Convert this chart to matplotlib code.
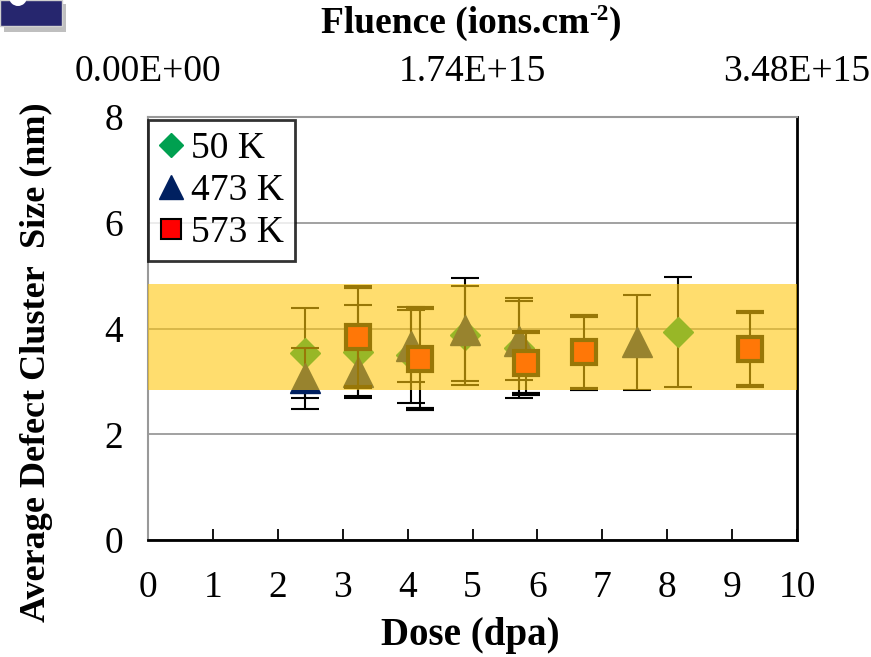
import numpy as np
import matplotlib.pyplot as plt
from matplotlib.lines import Line2D
from matplotlib.patches import Rectangle, Circle

# Average defect cluster size vs dose, three irradiation temperatures
# 50 K
dose_50 = [2.42, 3.24, 4.05, 4.88, 5.71, 8.17]
size_50 = [3.54, 3.56, 3.50, 3.87, 3.63, 3.93]
err_50 = [0.85, 0.88, 0.90, 0.93, 0.94, 1.04]

# 473 K
dose_473 = [2.42, 3.24, 4.05, 4.88, 5.71, 7.53]
size_473 = [3.06, 3.18, 3.67, 3.98, 3.77, 3.74]
err_473 = [0.58, 0.46, 0.68, 0.97, 0.75, 0.90]

# 573 K
dose_573 = [3.24, 4.19, 5.83, 6.72, 9.27]
size_573 = [3.84, 3.43, 3.35, 3.55, 3.62]
err_573 = [0.95, 0.95, 0.58, 0.69, 0.70]

band_low, band_high = 2.84, 4.85  # shaded range

dose_ticks = list(range(0, 11))
size_ticks = [0, 2, 4, 6, 8]
fluence_ticks = [0, 5, 10]
fluence_labels = ["0.00E+00", "1.74E+15", "3.48E+15"]

labels = ["50 K", "473 K", "573 K"]


def add_fluence_title(fig, cx, cy, size):
    '''
    Writes "Fluence (ions.cm-2)" with a plain hyphen in the superscript
    '''
    r = fig.canvas.get_renderer()
    parts = [("Fluence (ions.cm", size, 0), ("-2", size*0.62, size*0.36), (")", size, 0)]
    texts = []
    for s, fs, dy in parts:
        t = fig.text(0, 0, s, fontsize=fs, fontweight='bold', ha='left', va='baseline',
                     transform=None)
        texts.append((t, dy))
    widths = [t.get_window_extent(r).width for t, _ in texts]
    x = cx - sum(widths) / 2
    for (t, dy), w in zip(texts, widths):
        t.set_position((x, cy + dy * fig.dpi / 72))
        x += w


def main():
    plt.rcParams['font.family'] = ['Liberation Serif', 'DejaVu Serif']

    fig = plt.figure(figsize=(8.71, 6.57), dpi=100)
    ax = fig.add_axes([148/871, 1-540/657, (797-148)/871, (540-117)/657])

    green = '#00a050'
    navy = '#002060'
    red = '#ff0000'

    ax.errorbar(dose_50, size_50, yerr=err_50, fmt='D', ms=15.5, color=green,
                mec=green, ecolor='black', elinewidth=1.5, capsize=10, capthick=1.5, zorder=3)
    ax.errorbar(dose_473, size_473, yerr=err_473, fmt='^', ms=21, color=navy,
                mec=navy, ecolor='black', elinewidth=1.5, capsize=10, capthick=1.5, zorder=3.2)
    ax.errorbar(dose_573, size_573, yerr=err_573, fmt='s', ms=17.5, color=red,
                mec='black', mew=3, ecolor='black', elinewidth=1.5, capsize=10, capthick=1.5, zorder=3.4)

    # translucent yellow band drawn over the markers
    ax.axhspan(band_low, band_high, color=(1.0, 0.78, 0.05), alpha=0.6, lw=0, zorder=5)

    ax.set_xlim(0, 10)
    ax.set_ylim(0, 8)
    ax.set_xticks(dose_ticks)
    ax.set_yticks(size_ticks)
    ax.tick_params(axis='x', direction='in', length=8, width=1.3, labelsize=27, pad=22)
    ax.tick_params(axis='y', length=0, labelsize=27, pad=18)
    ax.yaxis.grid(True, color='#9a9a9a', lw=1.3)
    ax.set_axisbelow(True)

    for s in ['bottom', 'right']:
        ax.spines[s].set_color('black')
        ax.spines[s].set_linewidth(2)
    for s in ['left', 'top']:
        ax.spines[s].set_color('#999999')
        ax.spines[s].set_linewidth(1.5)

    top = ax.secondary_xaxis('top')
    top.set_xticks(fluence_ticks, fluence_labels)
    top.tick_params(length=0, labelsize=27, pad=20)
    top.spines['top'].set_visible(False)

    fig.text(470/871, 1-635/657, "Dose (dpa)", ha='center', va='center',
             fontsize=28, fontweight='bold')
    add_fluence_title(fig, 471, 657-33, 27)
    fig.text(36/871, 1-362/657, "Average Defect Cluster  Size (nm)", ha='center', va='center',
             rotation=90, fontsize=26, fontweight='bold')

    handles = [
        Line2D([], [], ls='none', marker='D', ms=12, color=green, mec=green),
        Line2D([], [], ls='none', marker='^', ms=17, color=navy, mec=navy),
        Line2D([], [], ls='none', marker='s', ms=15, color=red, mec='black', mew=1.5),
    ]
    leg = ax.legend(handles, labels, loc='upper left', bbox_to_anchor=(0, 0.993),
                    fontsize=27, frameon=True, fancybox=False, edgecolor='black',
                    handlelength=0.6, handletextpad=0.25, borderpad=0.3,
                    labelspacing=0.2, borderaxespad=0)
    leg.get_frame().set_linewidth(2)
    leg.set_zorder(10)

    # panel badge cut off in the top-left corner
    fig.patches.append(Rectangle((4, 653-24-4), 62, 28, transform=None,
                                 facecolor='#bfbfbf', edgecolor='none', zorder=1))
    fig.patches.append(Rectangle((0, 657-26), 62, 26, transform=None,
                                 facecolor='#26266e', edgecolor='#d0d0d0', lw=1, zorder=2))
    fig.patches.append(Circle((18, 660), 9, transform=None,
                              facecolor='white', edgecolor='none', zorder=3))

    fig.savefig('out.png', dpi=100)


if __name__ == '__main__':
    main()
